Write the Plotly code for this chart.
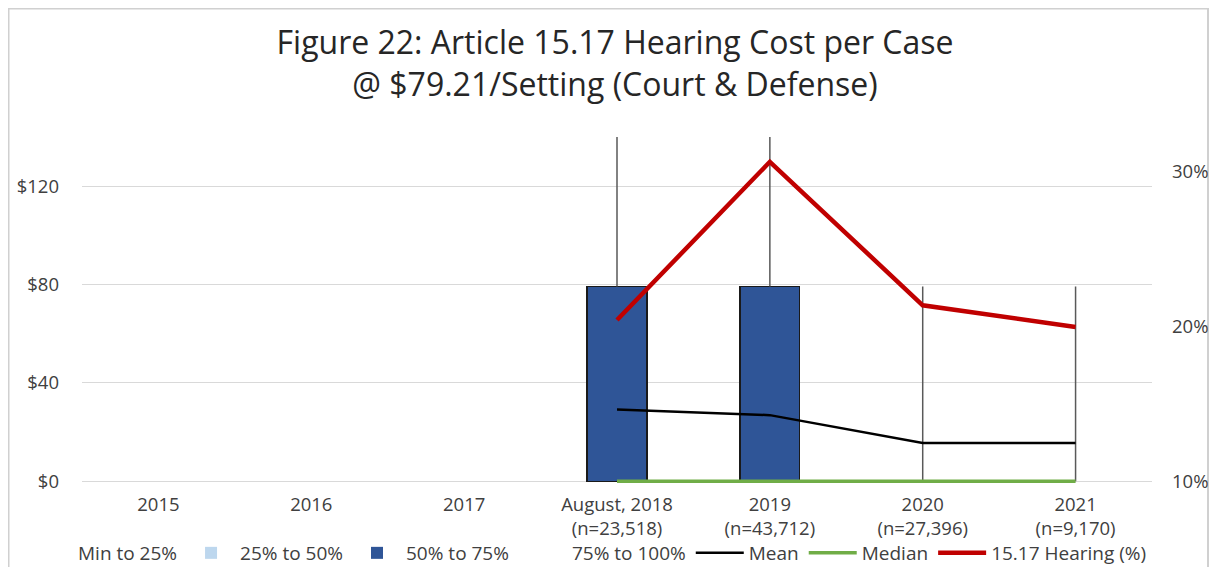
import plotly.graph_objects as go

categories = ["2015", "2016", "2017", "August, 2018<br>(n=23,518)", "2019<br>(n=43,712)",
              "2020<br>(n=27,396)", "2021<br>(n=9,170)"]
min_to_25 = [None, None, None, 0, 0, 0, 0]
q25_to_50 = [None, None, None, 0, 0, 0, 0]
q50_to_75 = [None, None, None, 79.21, 79.21, 0, 0]
q75_to_100 = [None, None, None, 79.21, 79.21, 79.21, 79.21]
q3_values = [None, None, None, 79.21, 79.21, 0, 0]
max_values = [None, None, None, 158.42, 158.42, 79.21, 79.21]
mean_values = [None, None, None, 29.2, 26.9, 15.6, 15.6]
median_values = [None, None, None, 0, 0, 0, 0]
hearing_pct = [None, None, None, 0.204, 0.306, 0.2135, 0.1995]

FONT = "Open Sans"
TXT = "#404040"
FS = 18.5
LFS = 19


def outline_widths(values, w=1.5):
    # zero-height segments get no outline, as in the reference
    return [w if (v is not None and v > 0) else 0 for v in values]


fig = go.Figure()

fig.add_trace(go.Bar(x=categories, y=min_to_25, name="Min to 25%",
                     marker=dict(color="rgba(0,0,0,0)", line=dict(width=0))))
fig.add_trace(go.Bar(x=categories, y=q25_to_50, name="25% to 50%",
                     marker=dict(color="#BDD7EE",
                                 line=dict(color="#1a1a1a", width=outline_widths(q25_to_50)))))
fig.add_trace(go.Bar(x=categories, y=q50_to_75, name="50% to 75%",
                     marker=dict(color="#2F5597",
                                 line=dict(color="#1a1a1a", width=outline_widths(q50_to_75)))))
fig.add_trace(go.Bar(x=categories, y=q75_to_100, name="75% to 100%",
                     marker=dict(color="rgba(0,0,0,0)", line=dict(width=0))))

# whiskers from Q3 to max
wx, wy = [], []
for c, lo, hi in zip(categories, q3_values, max_values):
    if lo is None:
        continue
    wx += [c, c, None]
    wy += [lo, hi, None]
fig.add_trace(go.Scatter(x=wx, y=wy, mode="lines", showlegend=False,
                         line=dict(color="#595959", width=1.5), hoverinfo="skip"))

fig.add_trace(go.Scatter(x=categories, y=mean_values, name="Mean", mode="lines",
                         line=dict(color="#000000", width=2.5)))
fig.add_trace(go.Scatter(x=categories, y=median_values, name="Median", mode="lines",
                         line=dict(color="#70AD47", width=3.5)))
fig.add_trace(go.Scatter(x=categories, y=hearing_pct, name="15.17 Hearing (%)", mode="lines",
                         line=dict(color="#C00000", width=4.5), yaxis="y2"))

# page body has an 8px margin on every side; work in container coordinates
OFF = 8
W, H = 1217 - 2 * OFF, 575 - 2 * OFF
L, R, T, B = 82 - OFF, 1152 - OFF, 137 - OFF, 483 - OFF
pw, ph = R - L, B - T

fig.update_layout(
    width=W, height=H,
    margin=dict(l=L, r=W - R, t=T, b=H - B, autoexpand=False),
    paper_bgcolor="white", plot_bgcolor="white",
    barmode="stack", bargap=0.61,
    font=dict(family=FONT, color=TXT, size=FS),
    title=dict(text="Figure 22: Article 15.17 Hearing Cost per Case<br>@ $79.21/Setting (Court & Defense)",
               x=(615 - OFF) / W, xanchor="center", xref="container",
               y=1 - 46 / H, yanchor="top", yref="container",
               font=dict(family=FONT, size=32, color="#262626")),
    xaxis=dict(type="category", showgrid=False, showline=False, ticks="", automargin=False,
               tickfont=dict(size=FS, color=TXT), ticklabelstandoff=8),
    yaxis=dict(range=[-0.7, 140], tickvals=[0, 40, 80, 120], ticktext=["$0", "$40", "$80", "$120"],
               showgrid=True, gridcolor="#D9D9D9", gridwidth=1.2, zeroline=False, automargin=False,
               showline=False, ticks="", tickfont=dict(size=FS, color=TXT),
               ticklabelstandoff=22),
    yaxis2=dict(range=[0.0989, 0.322], tickvals=[0.1, 0.2, 0.3], tickformat=".0%",
                overlaying="y", side="right", showgrid=False, zeroline=False, automargin=False,
                showline=False, ticks="", tickfont=dict(size=FS, color=TXT),
                ticklabelstandoff=19),
    legend=dict(orientation="h", x=(12 - L) / pw, xanchor="left",
                y=(B - (553 - OFF)) / ph, yanchor="middle",
                font=dict(size=LFS, color=TXT), traceorder="normal",
                itemwidth=48, bgcolor="rgba(0,0,0,0)"),
    showlegend=True,
    shapes=[dict(type="rect", xref="paper", yref="paper",
                 x0=(0.5 - L) / pw, x1=(W - 1 - L) / pw,
                 y0=(B - (H + 20)) / ph, y1=(B - 0.5) / ph,
                 line=dict(color="#D0D0D0", width=2), fillcolor="rgba(0,0,0,0)", layer="below")],
)

fig.write_html("out.html")
